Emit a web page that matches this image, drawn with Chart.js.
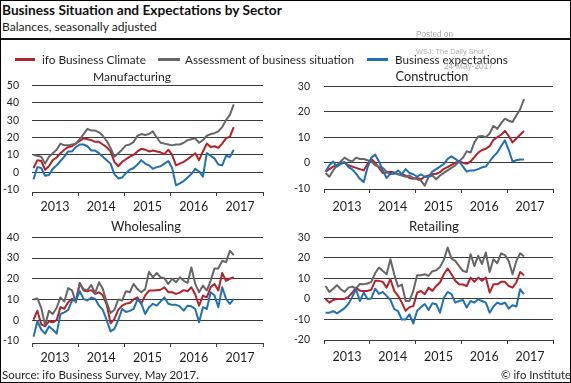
<!DOCTYPE html>
<html><head><meta charset="utf-8">
<script src="https://cdn.jsdelivr.net/npm/chart.js"></script>
<style>
html,body{margin:0;padding:0;background:#fff;}
#frame{position:absolute;left:0;top:0;width:571px;height:383px;overflow:hidden;font-family:Lato,'Noto Sans',sans-serif;color:#1a1a1a;background:#fff;}
.t{position:absolute;white-space:nowrap;line-height:1.2;}
canvas{position:absolute;}
</style></head><body>
<div id="frame"></div>
<script>
// ---------- data (monthly, Jan 2013 .. May 2017) ----------
const yearLabels = ['2013','2014','2015','2016','2017'];
const seriesNames = ['ifo Business Climate','Assessment of business situation','Business expectations'];

const mfgClimate = [2.5,7,6.5,1.5,3.5,7,8.5,11,13,14.5,15,16.5,
  18,19.5,19,18.5,17.5,17.5,16,14.5,12,6,3.5,6,
  7.5,9,10,12,13.5,13,12,12.5,12,11.5,10.5,13,
  10,4,5,6,7.5,9.2,11,7,12,16.5,14.5,15,
  14,16.5,19.5,20.5,26];
const mfgSituation = [10,9.5,9,5,9,11,13,16.5,15.5,15.5,16,16.5,
  19,22,25,24,24,23,21,18,14,9,11,13,
  15.5,16,17.5,21,22,21.5,22,23.5,20,17,16.5,16,
  15.5,16,16,17,18.5,19,19.5,17,18.5,21,22,22.5,
  23.5,26,30,33,39];
const mfgExpect = [-4,3,2.5,-2,-1.5,2,4,6.5,9,12,12,14.5,
  16,16,15,12.5,12.5,11,9,7,5,-1,-3.5,-3,
  -0.5,1.5,2.5,4.5,7,5,4,2,3,3.5,5,6.5,
  2.5,-7.5,-6.3,-5,-3,-1,2,0.5,-2.5,11,9.5,8,
  4.5,4,9.5,8.8,13];

const conClimate = [-3.5,-2.5,-1.5,-1,0,0,-1,-1.5,-2,-2.5,-3,-0.5,
  1.5,0,-2,-4,-3.8,-3.5,-3.8,-4.5,-4.7,-5,-6,-6.3,
  -6,-6.5,-5.5,-5,-4.5,-4.3,-3.7,-2.4,-1.7,-0.8,0,0.5,
  0,-0.4,0.5,2.2,4,5,5.5,6.5,9,10,11,12.5,
  10.5,8,9.5,11,12.5];
const conSituation = [-4,-5.5,-3,-1,0.5,2,1,0.5,2,1.5,1.5,1,
  0.5,-1,-1.5,-2,-3.5,-4.5,-4,-4.5,-5,-5.5,-5,-6,
  -6.5,-7,-9,-5.5,-5,-6.5,-5,-4,-3,-2,-1,0.5,
  2,4.5,4,8,10.3,10.5,10,11.5,14.5,13.3,15.5,17.3,
  16.5,16,18.5,21,25];
const conExpect = [-3.5,-1,0.5,-1.5,-0.5,0.3,-1.7,-2.6,-4.3,-6.3,-7.6,-2,
  2,3.2,0.5,-3,-6,-4.3,-4.3,-3,-4.5,-2.5,-4,-4.5,
  -5.5,-4.5,-5.5,-5.5,-3.5,-2.5,-1.5,-0.5,1.5,2.5,1.5,0.5,
  -1.5,-3.5,-3,-3,-2.5,-1.8,-1.5,0.5,2.5,4,6.5,8.8,
  5,0.5,1,1.3,1.3];

const wsClimate = [0.3,4.6,-2,-3,-0.5,-1,0,6.3,5.5,8.7,10.3,9.5,
  18,14.3,14,14.5,12.7,13.5,12,7.5,-1.5,0.5,5,7,
  8,8.3,10,11,8,12,14.3,14.3,14.5,14.7,15.9,13.5,
  13.5,12.7,13.3,14.5,14,15.9,12.5,7,11.9,11,15.9,17.5,
  14.3,22.8,19,20,20.7];
const wsSituation = [10,10.5,6,-2.5,4.5,3,6,11,9,15.5,14.4,8.6,
  17.5,15,14.5,17,13,18.3,15,8.6,3.5,5,10,9.5,
  14,13.5,17.5,15,13.5,15,23.4,20.7,22.8,20.7,20.2,17.5,
  20,18.3,20.7,19,18,25.5,17.5,13.5,16.7,14.3,19,25,
  25,28.7,28,33.5,31.4];
const wsExpect = [-8,-0.5,-4.5,-6.5,-3,-4.5,-6.5,3,3.8,5,9.5,9.5,
  14,10.3,9.5,11,10.3,7,5,0,-5.4,-4.2,0,5.4,
  4,4.5,5.5,10,8,3,6.3,7.9,7,9,11,7.9,
  7.4,7.4,6.7,4.6,7,6.7,5.4,-1,6.3,5.4,13.5,12,
  6.3,15.9,10.3,7.9,10.3];

const rtClimate = [0,-1.8,-0.5,0,0,0,1,3,5.5,4,3.9,3.9,
  4.5,8.8,8.8,8.3,5.5,9.6,3.9,1.5,-1.8,-5.8,-4,-3.5,
  3,3.9,2.3,5.5,3.9,6.3,8,12,14.8,12,8.8,7.1,
  7,6.3,10.4,8.3,10.4,8.8,10.4,3.1,7.1,7.1,8.3,8.3,
  6.3,5.5,8,13.1,11.5];
const rtSituation = [6.3,3.4,5,6.7,4.7,3.4,5.5,6,5,7.3,7.2,7.5,
  8.3,12.5,15.3,13.6,12,19.3,12,6,7,-1,-1,4,
  11.5,11.5,12,11.2,13.5,14,15.5,19,25,19.6,18.5,16,
  13.6,13.1,21.8,16,21,17,22.6,13.1,19.3,17.4,22.2,21.3,
  18.5,12,18.5,22.2,20.6];
const rtExpect = [-6.7,-6.7,-6,-7,-5.8,-4.5,-2.5,1,4.7,-1,3.1,0,
  0.2,5,2.5,3.4,1.5,-0.5,-5,-6,-10,-10,-7.5,-12,
  -5.8,-4,-2.5,-5.4,-2.1,-2.6,-6.7,0.6,3.4,2.3,-1.8,-1,
  -0.5,-4.2,-1,-1.8,-0.2,-1,-1.8,-6.7,-3.7,-1.8,-2.6,-1.8,
  -4.7,-3.1,-3.7,4.7,2.3];

const mfgTicks = [-10,0,10,20,30,40,50];
const conTicks = [-10,0,10,20,30];
const wsTicks  = [-10,0,10,20,30,40];
const rtTicks  = [-20,-10,0,10,20,30];
const monthTicks = [0,6,12,18,24,30,36,42,48,54,60];

// ---------- styles ----------
const RED='#b3212b', GREY='#666666', BLUE='#1f70b4', GRID='#3a3a3a', TXT='#1e1e1e';
Chart.defaults.font.family='Lato';

const frame=document.getElementById('frame');

function makeChart(p,W,H,yw,padTop,padRight,xh){
  const c=document.createElement('canvas');
  c.width=W;c.height=H;c.style.width=W+'px';c.style.height=H+'px';
  c.style.left='0px';c.style.top='0px';
  frame.appendChild(c);
  const src=[[p.climate,RED,3],[p.situation,GREY,2],[p.expect,BLUE,1]];
  const datasets=src.map((s,k)=>({
    label:seriesNames[k],
    data:s[0].map((v,i)=>({x:i+0.4,y:v})),
    borderColor:s[1],order:s[2],borderWidth:2,pointRadius:0,tension:0,fill:false,
    borderJoinStyle:'round'
  }));
  const chart=new Chart(c,{type:'line',data:{datasets},options:{
    responsive:false,maintainAspectRatio:false,animation:false,events:[],devicePixelRatio:1,
    layout:{padding:{top:padTop,right:padRight,left:0,bottom:0},autoPadding:false},
    plugins:{legend:{display:false},tooltip:{enabled:false},title:{display:false}},
    scales:{
      x:{type:'linear',min:0,max:60,
        afterBuildTicks:s=>{s.ticks=monthTicks.map(v=>({value:v}));},
        afterFit:s=>{s.height=xh;},
        grid:{drawOnChartArea:false,drawTicks:true,tickLength:4,
          tickColor:ctx=>(ctx.tick&&ctx.tick.value%12===0)?GRID:'rgba(0,0,0,0)',tickWidth:1},
        border:{display:true,color:GRID,width:1},
        ticks:{padding:p.xpad,maxRotation:0,minRotation:0,autoSkip:false,color:TXT,
          font:{family:'Lato',size:12.5},
          callback:v=>(v%12===6)?yearLabels[(v-6)/12]:''}
      },
      y:{type:'linear',min:p.yMin,max:p.yMax,
        afterBuildTicks:s=>{s.ticks=p.ticks.map(v=>({value:v}));},
        afterFit:s=>{s.width=yw;},
        grid:{drawTicks:false,lineWidth:1,
          color:ctx=>(ctx.tick&&ctx.tick.value===p.ticks[0]&&p.yMin<p.ticks[0])?'rgba(0,0,0,0)':GRID},
        border:{display:false},
        ticks:{padding:p.ypad,color:TXT,font:{family:'Lato',size:10.5}}
      }
    }
  }});
  return {c,chart};
}

function panel(p){
  const yw=34, padTop=8, padRight=8, xh=34;
  let W=Math.round(yw+(p.r-p.l)+padRight), H=Math.round(padTop+(p.b-p.t)+xh);
  let o=makeChart(p,W,H,yw,padTop,padRight,xh);
  for(let k=0;k<4;k++){
    const ca=o.chart.chartArea;
    const dw=Math.round((p.r-p.l)-(ca.right-ca.left));
    const dh=Math.round((p.b-p.t)-(ca.bottom-ca.top));
    if(dw===0&&dh===0)break;
    W+=dw;H+=dh;
    o.chart.destroy();o.c.remove();
    o=makeChart(p,W,H,yw,padTop,padRight,xh);
  }
  const ca=o.chart.chartArea;
  o.c.style.left=(p.l-ca.left)+'px'; o.c.style.top=(p.t-ca.top)+'px';
}

panel({l:32,r:263,t:85,b:192,yMin:-11.3,yMax:50,ticks:mfgTicks,xpad:3,ypad:13,
  climate:mfgClimate,situation:mfgSituation,expect:mfgExpect});
panel({l:324,r:553,t:86,b:189,yMin:-10.3,yMax:30,ticks:conTicks,xpad:6,ypad:14,
  climate:conClimate,situation:conSituation,expect:conExpect});
panel({l:32,r:263,t:237,b:343,yMin:-11,yMax:40,ticks:wsTicks,xpad:3,ypad:13,
  climate:wsClimate,situation:wsSituation,expect:wsExpect});
panel({l:324,r:553,t:237,b:340,yMin:-20,yMax:30,ticks:rtTicks,xpad:5,ypad:14,
  climate:rtClimate,situation:rtSituation,expect:rtExpect});

// ---------- text ----------
function addText(str,o){
  const el=document.createElement('div');
  el.className='t';
  el.style.fontFamily=o.family||"Lato, sans-serif";
  el.style.fontSize=o.size+'px';
  el.style.fontWeight=o.weight||'normal';
  el.style.color=o.color||TXT;
  el.style.left='0px';el.style.top='0px';
  const strut=document.createElement('span');
  strut.style.cssText='display:inline-block;width:0;height:0;vertical-align:baseline;';
  el.appendChild(strut);
  el.appendChild(document.createTextNode(str));
  frame.appendChild(el);
  if(o.w){const w0=el.getBoundingClientRect().width;el.style.fontSize=(o.size*o.w/w0)+'px';}
  const r=el.getBoundingClientRect();
  const sb=strut.getBoundingClientRect().bottom;
  let left=o.x;
  if(o.align==='center')left=o.x-r.width/2;else if(o.align==='right')left=o.x-r.width;
  el.style.left=left+'px';
  el.style.top=(o.base-(sb-r.top))+'px';
  return el;
}
function box(l,t,w,h,col){const d=document.createElement('div');d.style.cssText=`position:absolute;left:${l}px;top:${t}px;width:${w}px;height:${h}px;background:${col};`;frame.appendChild(d);}

addText('Business Situation and Expectations by Sector',{x:2,base:15,size:14,weight:'bold',w:280,color:'#111'});
addText('Balances, seasonally adjusted',{x:2,base:31,size:13,w:155,color:'#222'});
box(0,38,571,2,'#111');

box(15,58,20,3,RED);
addText(seriesNames[0],{x:42,base:64,size:12.5,w:104});
box(158,58,22,3,GREY);
addText(seriesNames[1],{x:185,base:64,size:12.5,w:169});
box(367,58,21,3,BLUE);
addText(seriesNames[2],{x:395,base:64,size:12.5,w:113});

addText('Manufacturing',{x:132,base:81,size:12.5,w:78,align:'center'});
addText('Construction',{x:432,base:81,size:12.5,w:73,align:'center'});
addText('Wholesaling',{x:146,base:231,size:12.5,w:70,align:'center'});
addText('Retailing',{x:434,base:231,size:12.5,w:50,align:'center'});

addText('Source: ifo Business Survey, May 2017.',{x:2,base:379,size:11.5,w:197});
addText('\u00a9 ifo Institute',{x:571,base:379,size:11.5,w:70,align:'right'});

const WM='#ababab';
addText('Posted on',{x:416,base:36.5,size:8,w:37,color:WM,family:"'Liberation Sans', Arial, sans-serif"});
addText('WSJ: The Daily Shot',{x:416,base:54,size:8,w:68,color:WM,family:"'Liberation Sans', Arial, sans-serif"});
addText('24-May-2017',{x:444,base:69,size:8,w:49,color:WM,family:"'Liberation Sans', Arial, sans-serif"});

const border=document.createElement('div');
border.style.cssText='position:absolute;left:0;top:0;width:571px;height:383px;box-sizing:border-box;border:1px solid #000;';
frame.appendChild(border);
</script>
</body></html>
